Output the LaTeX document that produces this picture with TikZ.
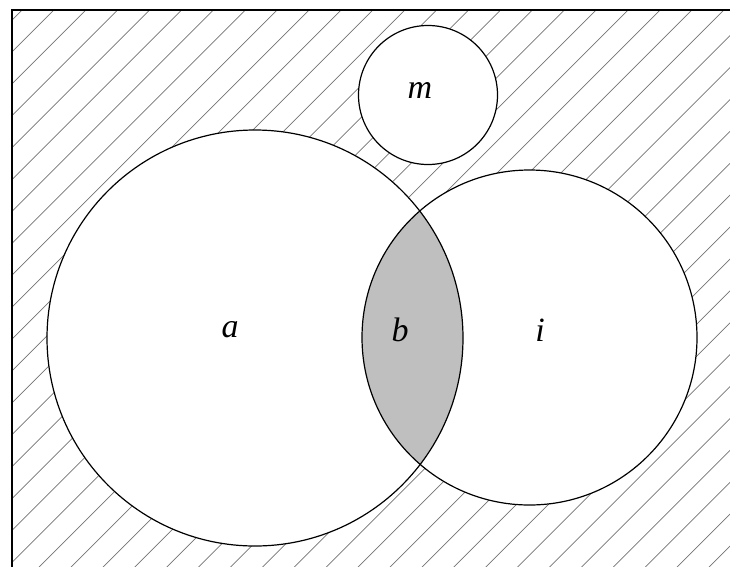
\documentclass[tikz,border=0pt]{standalone}
\usepackage{fontspec}
\setmainfont{Liberation Serif}
\begin{document}
\begin{tikzpicture}[x=1pt,y=-1pt,
  lbl/.style={font=\fontsize{34}{40}\selectfont\itshape, inner sep=0pt},
  hatch/.style={black!55, line width=0.7pt},
  ring/.style={black, line width=1.2pt},
  frame/.style={black, line width=1.6pt}]
\useasboundingbox (0,0) rectangle (730,566);
\coordinate (A) at (255,338);
\coordinate (I) at (529.5,337.5);
\coordinate (M) at (428,95);
% hatching inside the frame
\begin{scope}
  \clip (12,10) rectangle (730,566);
  \foreach \k in {0,...,41} {
    \draw[hatch] ({32+31.9*\k-700},700) -- ({32+31.9*\k},0);
  }
\end{scope}
% white interiors
\fill[white] (A) circle (208);
\fill[white] (I) circle (167.5);
\fill[white] (M) circle (69.5);
% grey lens
\begin{scope}
  \clip (A) circle (208);
  \fill[black!25] (I) circle (167.5);
\end{scope}
% outlines
\draw[ring] (A) circle (208);
\draw[ring] (I) circle (167.5);
\draw[ring] (M) circle (69.5);
\begin{scope}
  \clip (0,0) rectangle (730,566);
  \draw[frame, line cap=rect] (12,580) -- (12,10) -- (745,10);
\end{scope}
% labels
\node[lbl] (la) at (230,330) {a};
\node[lbl] (lb) at (400,330) {b};
\node[lbl] (li) at (540,330) {i};
\node[lbl] (lm) at (420,90) {m};
\end{tikzpicture}
\end{document}
